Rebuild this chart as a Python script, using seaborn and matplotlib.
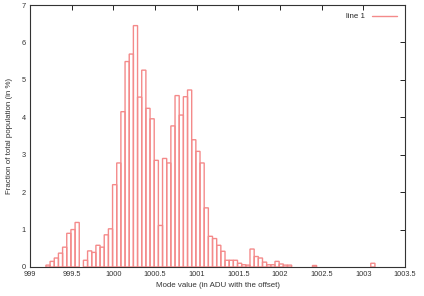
import matplotlib
matplotlib.use("Agg")
import matplotlib.pyplot as plt
from matplotlib.lines import Line2D
import seaborn as sns

# histogram bins (centres, ADU) and fraction of total population (%)
mode_centers = [999.215, 999.265, 999.315, 999.365, 999.415, 999.465, 999.515, 999.565,
                999.665, 999.715, 999.765, 999.815, 999.865, 999.915, 999.965,
                1000.015, 1000.065, 1000.115, 1000.165, 1000.215, 1000.265, 1000.315,
                1000.365, 1000.415, 1000.465, 1000.515, 1000.565, 1000.615, 1000.665,
                1000.715, 1000.765, 1000.815, 1000.865, 1000.915, 1000.965, 1001.015,
                1001.065, 1001.115, 1001.165, 1001.215, 1001.265, 1001.315, 1001.365,
                1001.415, 1001.465, 1001.515, 1001.565, 1001.615, 1001.665, 1001.715,
                1001.765, 1001.815, 1001.865, 1001.915, 1001.965, 1002.015, 1002.065,
                1002.115, 1002.415, 1003.115]
fraction = [0.05, 0.15, 0.24, 0.37, 0.53, 0.90, 1.00, 1.19,
            0.18, 0.43, 0.39, 0.58, 0.53, 0.86, 1.02,
            2.20, 2.78, 4.15, 5.49, 5.69, 6.45, 4.54,
            5.26, 4.24, 3.96, 2.85, 1.11, 2.90, 2.78,
            3.77, 4.58, 4.06, 4.55, 4.73, 3.40, 3.09,
            2.78, 1.58, 0.82, 0.76, 0.58, 0.42, 0.18,
            0.18, 0.18, 0.10, 0.06, 0.05, 0.48, 0.28,
            0.24, 0.13, 0.06, 0.06, 0.15, 0.08, 0.05,
            0.05, 0.04, 0.10]

xticks = [999, 999.5, 1000, 1000.5, 1001, 1001.5, 1002, 1002.5, 1003, 1003.5]
xticklabels = ["999", "999.5", "1000", "1000.5", "1001", "1001.5", "1002", "1002.5", "1003", "1003.5"]
yticks = [0, 1, 2, 3, 4, 5, 6, 7]

sns.set_style("white")
plt.rcParams["font.family"] = ["Liberation Sans", "DejaVu Sans"]

fig = plt.figure(figsize=(4.24, 2.96), dpi=100)
ax = fig.add_axes([0.071, 0.098, 0.884, 0.885])

red = "#f48a8a"
sns.histplot(x=mode_centers, weights=fraction, binwidth=0.05, binrange=(999.19, 1003.19),
             fill=False, element="bars", color=red, linewidth=1.0, ax=ax)
# keep every box outline the same soft red (gnuplot "with boxes"), hide empty bins
for p in ax.patches:
    p.set_edgecolor(red)
    p.set_facecolor("none")
    p.set_linewidth(1.0)
    p.set_snap(False)
    if p.get_height() == 0:
        p.set_visible(False)

ax.set_xlim(999, 1003.5)
ax.set_ylim(0, 7)
ax.set_xticks(xticks)
ax.set_xticklabels(xticklabels)
ax.set_yticks(yticks)
ax.tick_params(direction="in", length=3.5, width=0.7, labelsize=5.3, colors="#222222",
               top=True, right=True, pad=3)
ax.tick_params(axis="both", labelcolor="#333333")
for s in ax.spines.values():
    s.set_linewidth(0.8)
    s.set_color("#333333")
    s.set_zorder(3)

ax.set_xlabel("Mode value (in ADU with the offset)", fontsize=5.7, color="#333333", labelpad=3)
ax.set_ylabel("Fraction of total population (in %)", fontsize=5.7, color="#333333", labelpad=6)

handle = Line2D([], [], color=red, linewidth=1.0)
ax.legend([handle], ["line 1"], loc="upper right", frameon=False, fontsize=5.7,
          markerfirst=False, handlelength=3.2, borderaxespad=0.6)

fig.savefig("out.png", dpi=100)
